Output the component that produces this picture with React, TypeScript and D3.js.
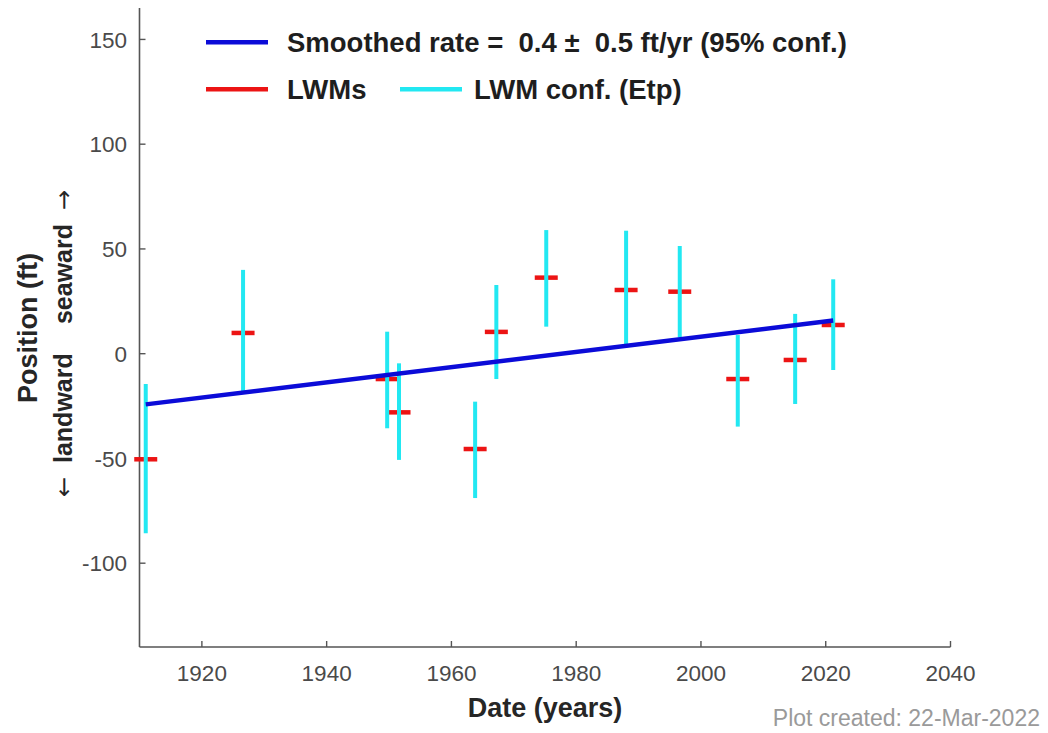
import * as d3 from 'd3';

// LWM survey dates (decimal years)
const lwmYears = [1911.0, 1926.6, 1949.7, 1951.6, 1963.8, 1967.2, 1975.2, 1988.0, 1996.6, 2005.9, 2015.1, 2021.2];
// LWM positions (ft)
const lwmPositions = [-50.4, 9.9, -12.1, -28.0, -45.5, 10.4, 36.3, 30.4, 29.6, -12.1, -3.0, 13.7];
// confidence bounds (ft)
const confUpper = [-14.5, 40.0, 10.5, -4.6, -22.9, 32.8, 59.0, 58.7, 51.4, 8.9, 19.0, 35.5];
const confLower = [-85.7, -18.8, -35.6, -50.7, -68.9, -12.1, 12.9, 3.3, 7.8, -34.8, -24.0, -7.8];

// smoothed rate line end points
const trendYears = [1911.0, 2021.2];
const trendValues = [-24.2, 15.8];

const xTicks = [1920, 1940, 1960, 1980, 2000, 2020, 2040];
const yTicks = [-100, -50, 0, 50, 100, 150];

const W = 1048;
const H = 733;
const FONT = '"Liberation Sans", Arial, Helvetica, sans-serif';

const BLUE = '#0b0bd8';
const RED = '#ec1414';
const CYAN = '#22e8f2';
const AXIS = '#555555';
const TICK_TEXT = '#4a4a4a';

export default function App() {
  const x = d3.scaleLinear().domain([1910, 2040]).range([139.5, 950.5]);
  const y = d3.scaleLinear().domain([-140, 165]).range([647, 8]);

  const trendLine = d3.line<number>()
    .x((d, i) => x(trendYears[i]))
    .y(d => y(d));

  const x0 = x.range()[0];
  const x1 = x.range()[1];
  const yBottom = y.range()[0];
  const yTop = y.range()[1];

  return (
    <svg width={W} height={H} style={{ position: 'absolute', left: 0, top: 0, background: '#fff' }}
      fontFamily={FONT}>
      <rect width={W} height={H} fill="#fff" />

      {/* axes */}
      <line x1={x0} x2={x0} y1={yTop} y2={yBottom} stroke={AXIS} strokeWidth={1.6} />
      <line x1={x0} x2={x1} y1={yBottom} y2={yBottom} stroke={AXIS} strokeWidth={1.6} />
      {yTicks.map(t => (
        <g key={'y' + t}>
          <line x1={x0} x2={x0 + 6} y1={y(t)} y2={y(t)} stroke={AXIS} strokeWidth={1.4} />
          <text x={127} y={y(t)} dy="0.36em" textAnchor="end" fontSize={22.5} fill={TICK_TEXT}>{t}</text>
        </g>
      ))}
      {xTicks.map(t => (
        <g key={'x' + t}>
          <line x1={x(t)} x2={x(t)} y1={yBottom} y2={yBottom - 6} stroke={AXIS} strokeWidth={1.4} />
          <text x={x(t)} y={681} textAnchor="middle" fontSize={22.5} fill={TICK_TEXT}>{t}</text>
        </g>
      ))}

      {/* LWM markers, then confidence bars, then trend */}
      {lwmYears.map((yr, i) => (
        <line key={'r' + i} x1={x(yr) - 11.5} x2={x(yr) + 11.5} y1={y(lwmPositions[i])} y2={y(lwmPositions[i])}
          stroke={RED} strokeWidth={4.5} />
      ))}
      {lwmYears.map((yr, i) => (
        <line key={'c' + i} x1={x(yr)} x2={x(yr)} y1={y(confUpper[i])} y2={y(confLower[i])}
          stroke={CYAN} strokeWidth={4} />
      ))}
      <path d={trendLine(trendValues) || ''} fill="none" stroke={BLUE} strokeWidth={4.5} />

      {/* legend */}
      <line x1={206} x2={268} y1={42.3} y2={42.3} stroke={BLUE} strokeWidth={4.5} />
      <text x={287} y={52} fontSize={27.5} fontWeight="bold" fill="#1e1e1e" style={{ whiteSpace: 'pre' }}>
        {'Smoothed rate =  0.4 \u00B1  0.5 ft/yr (95% conf.)'}
      </text>
      <line x1={206} x2={268} y1={89.3} y2={89.3} stroke={RED} strokeWidth={4.5} />
      <text x={287} y={99} fontSize={27.5} fontWeight="bold" fill="#1e1e1e">LWMs</text>
      <line x1={400} x2={462} y1={89.3} y2={89.3} stroke={CYAN} strokeWidth={4.5} />
      <text x={474} y={99} fontSize={27.5} fontWeight="bold" fill="#1e1e1e">LWM conf. (Etp)</text>

      {/* axis titles */}
      <text x={545} y={717} textAnchor="middle" fontSize={27} fontWeight="bold" fill="#262626">Date (years)</text>
      <text transform="translate(37,328) rotate(-90)" textAnchor="middle" fontSize={27} fontWeight="bold" fill="#262626">
        Position (ft)
      </text>
      <text transform="translate(72,497) rotate(-90)" textAnchor="start" fontSize={25} fontWeight="bold" fill="#262626"
        style={{ whiteSpace: 'pre' }}>
        <tspan fontFamily="DejaVu Sans" fontWeight="normal" fontSize={24}>{'\u2190'}</tspan>
        {'  landward'}
      </text>
      <text transform="translate(72,190) rotate(-90)" textAnchor="end" fontSize={25} fontWeight="bold" fill="#262626"
        style={{ whiteSpace: 'pre' }}>
        {'seaward  '}
        <tspan fontFamily="DejaVu Sans" fontWeight="normal" fontSize={24}>{'\u2192'}</tspan>
      </text>

      <text x={1040} y={726} textAnchor="end" fontSize={23} fill="#9a9a9a">Plot created: 22-Mar-2022</text>
    </svg>
  );
}
